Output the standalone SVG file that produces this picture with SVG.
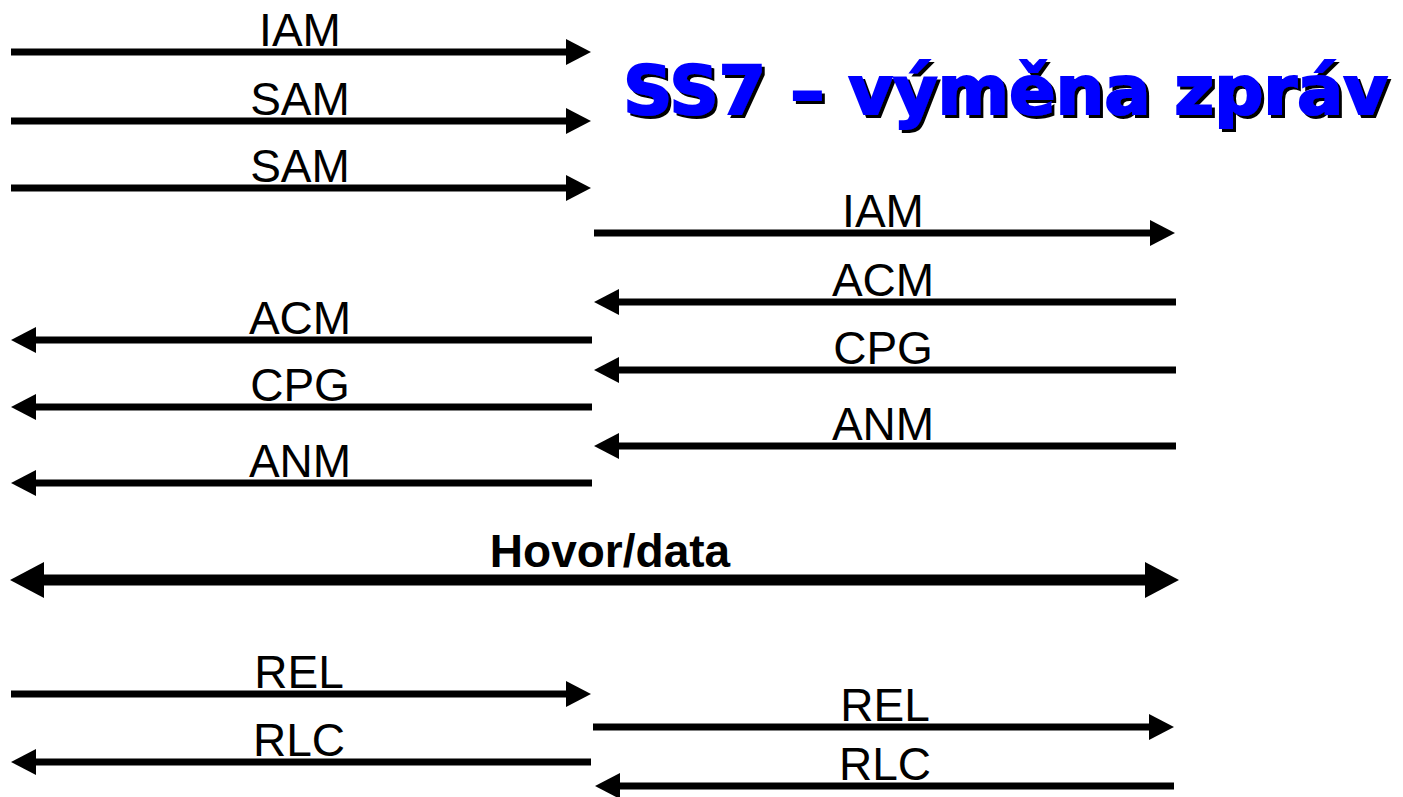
<svg xmlns="http://www.w3.org/2000/svg" width="1403" height="797" viewBox="0 0 1403 797">
<style>
.bg{fill:#ffffff}
.msg{stroke:#000;stroke-width:7;fill:none}
.call{stroke:#000;stroke-width:11;fill:none}
.lbl{font-family:"Liberation Sans",Arial,sans-serif;font-size:46px;fill:#000;text-anchor:middle}
.blbl{font-family:"Liberation Sans",Arial,sans-serif;font-size:46px;font-weight:bold;fill:#000;text-anchor:middle}
.title{font-family:"DejaVu Sans",Verdana,sans-serif;font-size:67px;font-weight:bold;fill:#0000ff;stroke:#0000ff;stroke-width:2}
</style>
<defs>
<filter id="shadow" x="-5%" y="-20%" width="110%" height="140%">
<feOffset in="SourceAlpha" dx="3" dy="3" result="off"/>
<feFlood flood-color="#000"/>
<feComposite in2="off" operator="in" result="sh"/>
<feMerge><feMergeNode in="sh"/><feMergeNode in="SourceGraphic"/></feMerge>
</filter>
<marker id="ah" markerUnits="userSpaceOnUse" markerWidth="26" markerHeight="26" refX="0" refY="13" orient="auto" viewBox="0 0 26 26">
<path d="M0,0 L25,13 L0,26 Z" fill="#000"/>
</marker>
<marker id="ahb" markerUnits="userSpaceOnUse" markerWidth="34" markerHeight="36" refX="0" refY="18" orient="auto-start-reverse" viewBox="0 0 34 36">
<path d="M0,0 L34,18 L0,36 Z" fill="#000"/>
</marker>
</defs>
<rect class="bg" x="0" y="0" width="1403" height="797"/>
<g id="title">
<text class="title" x="623" y="114" textLength="765" lengthAdjust="spacingAndGlyphs" filter="url(#shadow)">SS7 – výměna zpráv</text>
</g>
<g id="connectors">
<g id="m-iam-1"><path class="msg" d="M11,52 H566" marker-end="url(#ah)"/><text class="lbl" x="300" y="46">IAM</text></g>
<g id="m-sam-1"><path class="msg" d="M11,121 H566" marker-end="url(#ah)"/><text class="lbl" x="300" y="115">SAM</text></g>
<g id="m-sam-2"><path class="msg" d="M11,188 H566" marker-end="url(#ah)"/><text class="lbl" x="300" y="182">SAM</text></g>
<g id="m-iam-2"><path class="msg" d="M594,233 H1150" marker-end="url(#ah)"/><text class="lbl" x="883" y="227">IAM</text></g>
<g id="m-acm-2"><path class="msg" d="M1176,302 H619" marker-end="url(#ah)"/><text class="lbl" x="883" y="296">ACM</text></g>
<g id="m-cpg-2"><path class="msg" d="M1176,370 H619" marker-end="url(#ah)"/><text class="lbl" x="883" y="364">CPG</text></g>
<g id="m-anm-2"><path class="msg" d="M1176,446 H619" marker-end="url(#ah)"/><text class="lbl" x="883" y="440">ANM</text></g>
<g id="m-acm-1"><path class="msg" d="M592,340 H36" marker-end="url(#ah)"/><text class="lbl" x="300" y="334">ACM</text></g>
<g id="m-cpg-1"><path class="msg" d="M592,407 H36" marker-end="url(#ah)"/><text class="lbl" x="300" y="401">CPG</text></g>
<g id="m-anm-1"><path class="msg" d="M592,483 H36" marker-end="url(#ah)"/><text class="lbl" x="300" y="477">ANM</text></g>
<g id="m-call"><path class="call" d="M44,580 H1145" marker-start="url(#ahb)" marker-end="url(#ahb)"/><text class="blbl" x="610" y="567">Hovor/data</text></g>
<g id="m-rel-1"><path class="msg" d="M11,694 H566" marker-end="url(#ah)"/><text class="lbl" x="299" y="688">REL</text></g>
<g id="m-rlc-1"><path class="msg" d="M591,762 H36" marker-end="url(#ah)"/><text class="lbl" x="299" y="756">RLC</text></g>
<g id="m-rel-2"><path class="msg" d="M593,727 H1149" marker-end="url(#ah)"/><text class="lbl" x="885" y="721">REL</text></g>
<g id="m-rlc-2"><path class="msg" d="M1174,786 H620" marker-end="url(#ah)"/><text class="lbl" x="885" y="780">RLC</text></g>
</g>
</svg>
